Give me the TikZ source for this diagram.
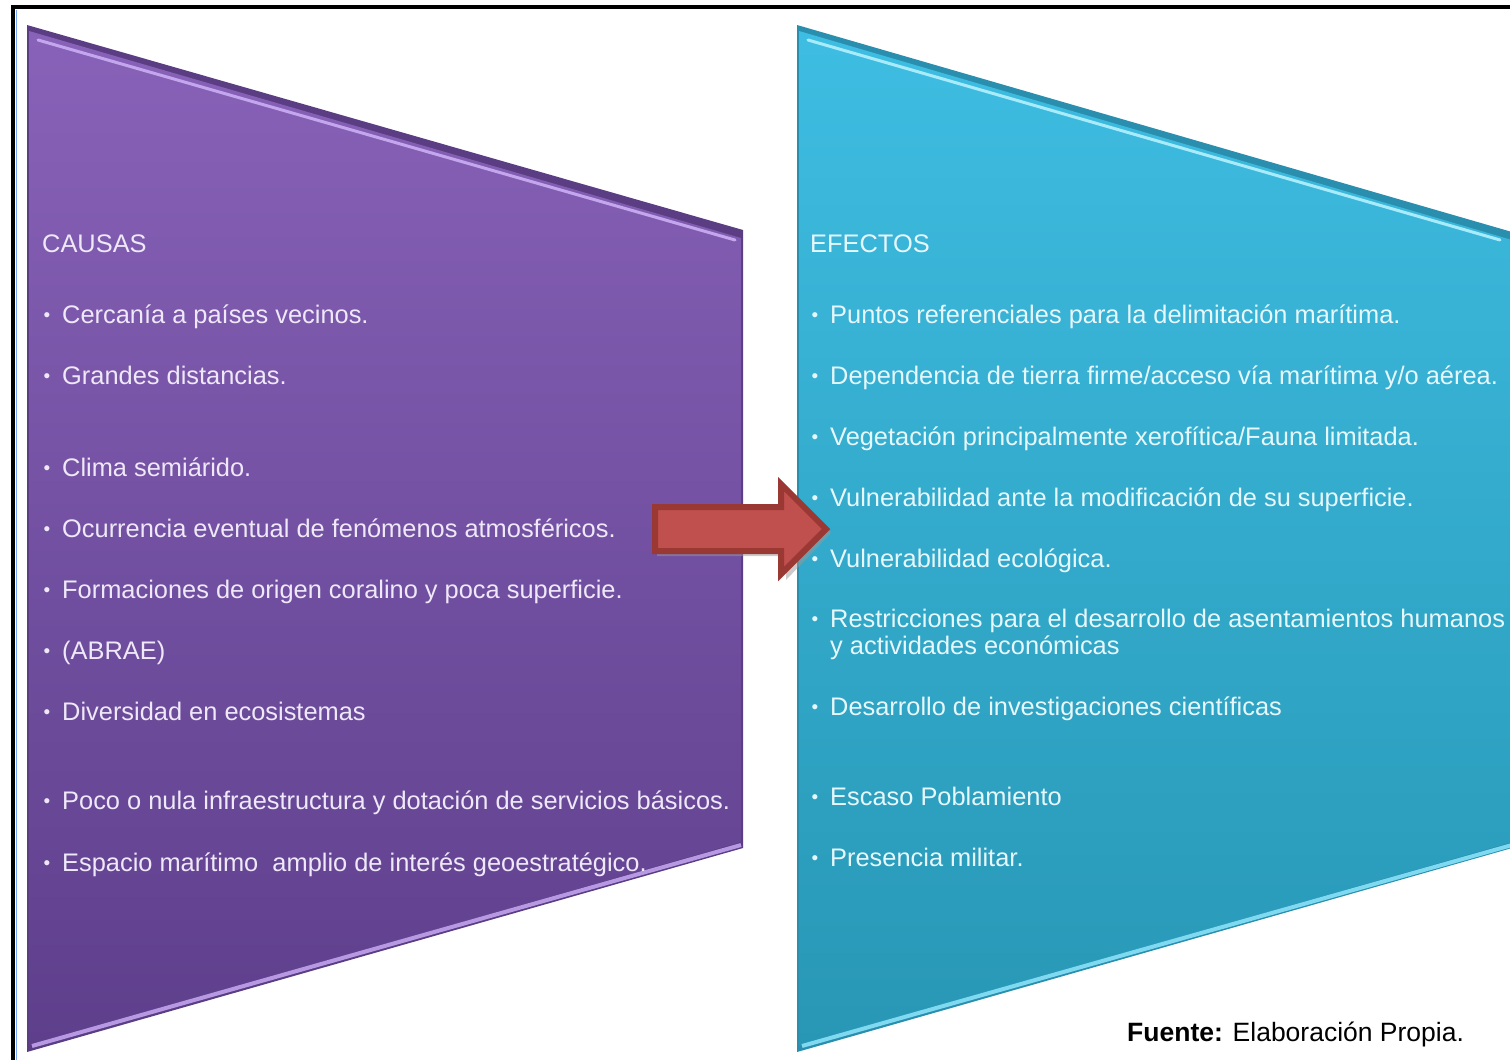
\documentclass[tikz,border=0pt]{standalone}
\usepackage{fontspec}
\setmainfont{Liberation Sans}
\definecolor{purTop}{HTML}{8862B8}
\definecolor{purBot}{HTML}{5E3F8C}
\definecolor{purEdge}{HTML}{5A3D82}
\definecolor{purHi}{HTML}{C3A6EE}
\definecolor{cyTop}{HTML}{3EBDE2}
\definecolor{cyBot}{HTML}{2897B5}
\definecolor{cyEdge}{HTML}{2A8FAE}
\definecolor{cyHi}{HTML}{A8ECFB}
\definecolor{txtP}{HTML}{EEE8F8}
\definecolor{txtC}{HTML}{E6F7FC}
\definecolor{arrFill}{HTML}{C0504D}
\definecolor{arrLine}{HTML}{9A3834}
\newcommand{\bul}{\makebox[19pt][l]{\hspace{0.5pt}\raisebox{0.1ex}{\fontsize{19}{19}\selectfont•}}}
\begin{document}
\begin{tikzpicture}[x=1pt,y=-1pt,
  itemP/.style={anchor=base west,text=txtP,font=\fontsize{25.4}{27}\selectfont,inner sep=0pt,align=left},
  itemC/.style={anchor=base west,text=txtC,font=\fontsize{25.4}{27}\selectfont,inner sep=0pt,align=left},
  src/.style={anchor=base west,text=black,font=\fontsize{26.5}{30}\selectfont,inner sep=0pt}]
\useasboundingbox (0,0) rectangle (1510,1060);
\fill[white] (0,0) rectangle (1510,1060);
% frame
\draw[line width=4pt,black] (13,1060) -- (13,7) -- (1510,7);
\draw[line width=1.2pt,cyHi!70!blue] (16.5,10) -- (16.5,1060);
% purple trapezoid
\fill[purEdge] (27,25) -- (743,230) -- (743,848) -- (27,1052) -- cycle;
\shade[top color=purTop,bottom color=purBot] (29,31) -- (741,238) -- (741,842) -- (29,1046) -- cycle;
\draw[purHi,line width=3pt,line cap=round] (38,40) -- (735,240);
\draw[purHi!80!purTop,line width=4pt] (32,1046) -- (741,845);
% cyan trapezoid
\fill[cyEdge] (797,25) -- (1512,232) -- (1512,848) -- (797,1052) -- cycle;
\shade[top color=cyTop,bottom color=cyBot] (799,31) -- (1512,240) -- (1512,842) -- (799,1046) -- cycle;
\draw[cyHi,line width=3pt,line cap=round] (808,40) -- (1500,240);
\draw[cyHi!60!cyTop,line width=4pt] (802,1046) -- (1512,845);
% causes
\node[itemP] (causas) at (42,252) {CAUSAS};
\node[itemP] (c1) at (43,323) {\bul Cercanía a países vecinos.};
\node[itemP] (c2) at (43,384) {\bul Grandes distancias.};
\node[itemP] (c3) at (43,476) {\bul Clima semiárido.};
\node[itemP] (c4) at (43,537) {\bul Ocurrencia eventual de fenómenos atmosféricos.};
\node[itemP] (c5) at (43,598) {\bul Formaciones de origen coralino y poca superficie.};
\node[itemP] (c6) at (43,659) {\bul (ABRAE)};
\node[itemP] (c7) at (43,720) {\bul Diversidad en ecosistemas};
\node[itemP] (c8) at (43,809) {\bul Poco o nula infraestructura y dotación de servicios básicos.};
\node[itemP] (c9) at (43,871) {\bul Espacio marítimo\ \ amplio de interés geoestratégico.};
% effects
\node[itemC] (efectos) at (810,252) {EFECTOS};
\node[itemC] (e1) at (811,323) {\bul Puntos referenciales para la delimitación marítima.};
\node[itemC] (e2) at (811,384) {\bul Dependencia de tierra firme/acceso vía marítima y/o aérea.};
\node[itemC] (e3) at (811,445) {\bul Vegetación principalmente xerofítica/Fauna limitada.};
\node[itemC] (e4) at (811,506) {\bul Vulnerabilidad ante la modificación de su superficie.};
\node[itemC] (e5) at (811,567) {\bul Vulnerabilidad ecológica.};
\node[itemC] (e6) at (811,654) {\bul Restricciones para el desarrollo de asentamientos humanos\\\hspace{19pt}y actividades económicas};
\node[itemC] (e7) at (811,715) {\bul Desarrollo de investigaciones científicas};
\node[itemC] (e8) at (811,805) {\bul Escaso Poblamiento};
\node[itemC] (e9) at (811,866) {\bul Presencia militar.};
% arrow
\fill[black!40,opacity=0.5] (657,512) -- (786,512) -- (786,487) -- (831,533) -- (786,580) -- (786,556) -- (657,556) -- cycle;
\draw[fill=arrFill,draw=arrLine,line width=6pt,line join=miter]
  (655,507) -- (781,507) -- (781,484) -- (826,529) -- (781,574) -- (781,551) -- (655,551) -- cycle;
% source
\node[src] (fuente) at (1127,1041) {\textbf{Fuente:} Elaboración Propia.};
\end{tikzpicture}
\end{document}
